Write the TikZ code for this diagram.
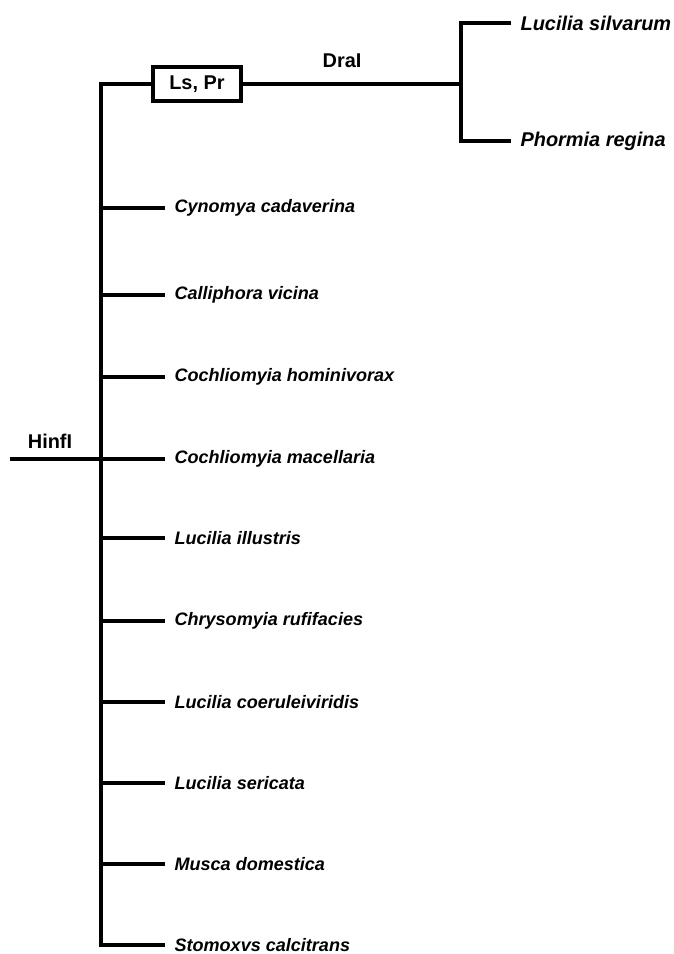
\documentclass[tikz,border=0pt]{standalone}
\usepackage{fontspec}
\setmainfont{Liberation Sans}
\usetikzlibrary{positioning}
\tikzset{
  branch/.style={line width=3.4pt},
  taxon/.style={font=\bfseries\itshape\fontsize{15.4}{17}\selectfont,anchor=west,inner xsep=8pt,inner ysep=0pt},
  enzyme/.style={font=\bfseries\fontsize{17}{19}\selectfont},
}

\begin{document}
\begin{tikzpicture}[x=0.03cm,y=-0.03cm]
\useasboundingbox (0,0) rectangle (673,954);
% restriction sites on the stem
\node[enzyme,draw,line width=2.8pt,minimum width=2.64cm,minimum height=1.02cm,inner sep=0pt] (box) at (197,84) {Ls, Pr};
\node[enzyme] (dral) at (342,61) {DraI};
\node[enzyme] (hinfl) at (50,441) {HinfI};
% two-taxon clade
\coordinate (split) at (461,84);
\node[taxon,font=\bfseries\itshape\fontsize{17}{19}\selectfont] (silv) at (511,23) {Lucilia silvarum};
\node[taxon,font=\bfseries\itshape\fontsize{17}{19}\selectfont] (phor) at (511,141) {Phormia regina};
\draw[branch] (box.east) -- (split);
\draw[branch] (silv.west) -| (split) |- (phor.west);
% remaining taxa along the main stem
\foreach \i/\y/\name in {0/208/Cynomya cadaverina,1/295/Calliphora vicina,
  2/377/Cochliomyia hominivorax,3/459/Cochliomyia macellaria,4/538/Lucilia illustris,
  5/621/Chrysomyia rufifacies,6/702/Lucilia coeruleiviridis,7/783/Lucilia sericata,
  8/864/Musca domestica,9/945/Stomoxvs calcitrans}{
  \coordinate (knot\i) at (101,\y);
  \node[taxon] (leaf\i) at (165,\y) {\name};
  \draw[branch] (knot\i) -- (leaf\i.west);
}
\draw[branch] (box.west) -| (knot9) -- (leaf9.west);
\coordinate (root) at (10,459);
\draw[branch] (root) -- (knot3);
\end{tikzpicture}
\end{document}
